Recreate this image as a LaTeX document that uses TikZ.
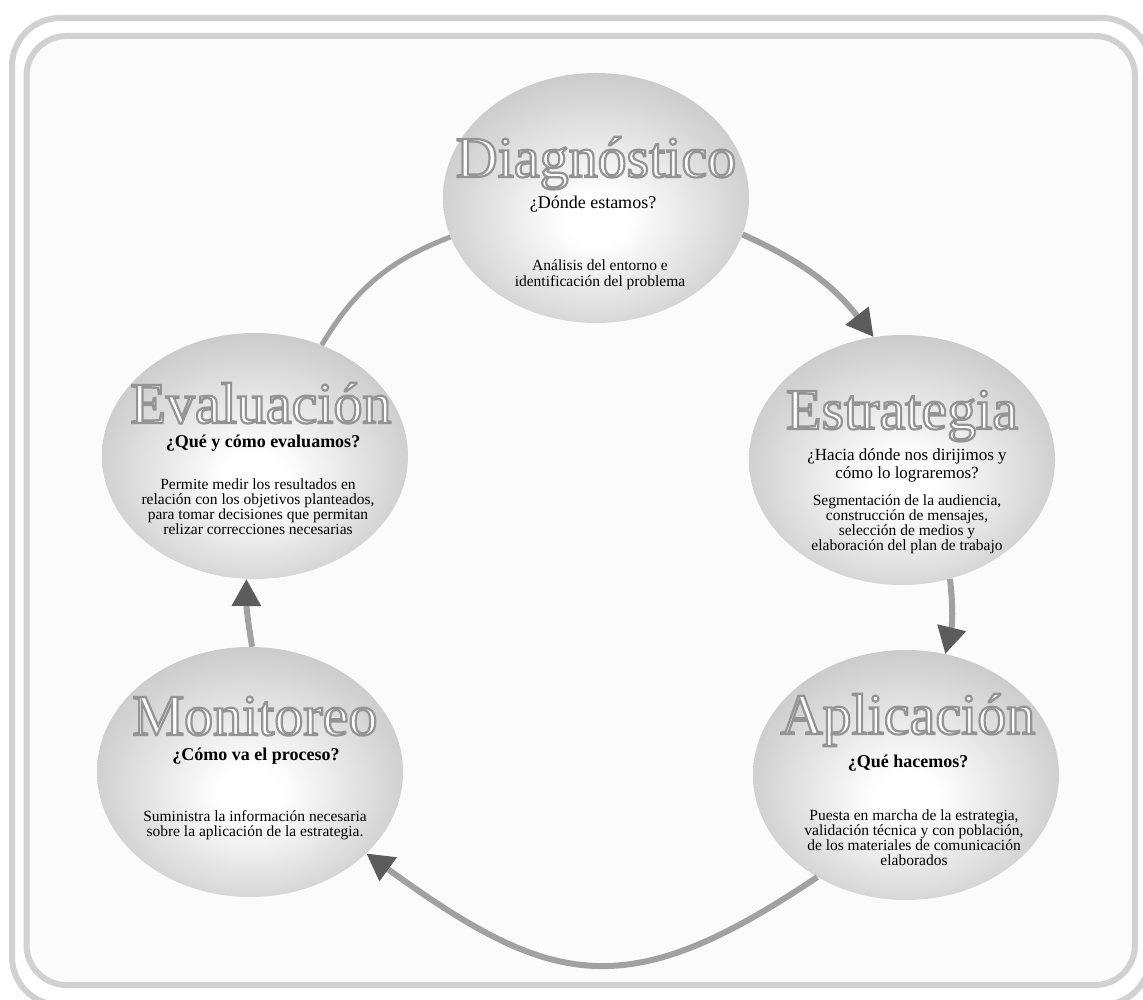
\documentclass[tikz,border=0pt]{standalone}
\usepackage{fontspec}
\setmainfont{Liberation Serif}
\usetikzlibrary{shapes.geometric, arrows.meta, positioning}

\definecolor{rim}{gray}{0.79}
\definecolor{pale}{gray}{0.985}
\pgfdeclareradialshading{glow}{\pgfpoint{0bp}{-5bp}}{color(0bp)=(white); color(5bp)=(white); color(28bp)=(rim); color(50bp)=(rim)}

% white title with a grey outline (fill and stroke text)
\newcommand{\embossed}[1]{{\color{white}%
  \special{pdf:literal direct 0.58 G 2.2 w 2 Tr}#1\special{pdf:literal direct 0 Tr 0.4 w}}}

\begin{document}
\begin{tikzpicture}[
    x=1pt, y=1pt,
    panel/.style={draw=black!18, line width=6pt, rounded corners=#1},
    phase/.style={ellipse, minimum width=306pt, minimum height=250pt, inner sep=0pt, shading=glow},
    ttl/.style={anchor=base, inner sep=0pt, font=\fontsize{58}{58}\selectfont},
    ask/.style={anchor=base, inner sep=0pt, align=center, font=\fontsize{18}{19}\selectfont},
    info/.style={inner sep=0pt, align=center, font=\fontsize{15.5}{15}\selectfont},
    arr/.style={-{Triangle[length=27pt, width=28pt, color=black!64]}, line width=6pt, color=black!37},
    link/.style={line width=5pt, color=black!37}
]
\useasboundingbox (0,0) rectangle (1143,999);
\fill[white] (0,0) rectangle (1143,999);

% frames
\draw[panel=48] (12,-6) rectangle (1150,981);
\draw[panel=40, fill=pale] (26.5,14) rectangle (1135,963);

% phases
\node[phase] (diag) at (596,801) {};
\node[phase] (estr) at (902,539) {};
\node[phase, minimum height=246pt] (eval) at (255,543) {};
\node[phase] (mon) at (250,227) {};
\node[phase] (apl) at (906,224) {};

% titles
\node[ttl] (diagT) at (596,822) {\embossed{Diagnóstico}};
\node[ttl] (estrT) at (902,570) {\embossed{Estrategia}};
\node[ttl] (evalT) at (261,576) {\embossed{Evaluación}};
\node[ttl] (monT) at (255,264) {\embossed{Monitoreo}};
\node[ttl] (aplT) at (908,265) {\embossed{Aplicación}};

% questions
\node[ask] (diagQ) at (593,790) {¿Dónde estamos?};
\node[ask, anchor=center, font=\fontsize{17}{18}\selectfont] (estrQ) at (907,534) {¿Hacia dónde nos dirijimos y\\cómo lo lograremos?};
\node[ask, font=\bfseries\fontsize{18}{19}\selectfont] (evalQ) at (263,551) {¿Qué y cómo evaluamos?};
\node[ask, font=\bfseries\fontsize{18}{19}\selectfont] (monQ) at (256,238) {¿Cómo va el proceso?};
\node[ask, font=\bfseries\fontsize{18}{19}\selectfont] (aplQ) at (908,231) {¿Qué hacemos?};

% descriptions
\node[info, font=\fontsize{15.5}{16}\selectfont] (diagI) at (600,724) {Análisis del entorno e\\identificación del problema};
\node[info, font=\fontsize{15.5}{13.5}\selectfont] (estrI) at (907,475) {Segmentación de la audiencia,\\construcción de mensajes,\\selección de medios y\\elaboración del plan de trabajo};
\node[info] (evalI) at (258,492) {Permite medir los resultados en\\relación con los objetivos planteados,\\para tomar decisiones que permitan\\relizar correcciones necesarias};
\node[info] (monI) at (255,174) {Suministra la información necesaria\\sobre la aplicación de la estrategia.};
\node[info] (aplI) at (914,161) {Puesta en marcha de la estrategia,\\validación técnica y con población,\\de los materiales de comunicación\\elaborados};

% cycle
\draw[arr] (diag.-14) to[bend left=14] (estr.103);
\draw[arr] (estr.-68) to[bend left=10] (apl.72);
\draw[arr] (apl.-131) to[out=214, in=-36, looseness=1.3] (mon.-35);
\draw[arr] (mon.89) to[bend left=5] (eval.-94);
\draw[link] (eval.59) to[bend left=19] (diag.195);

\end{tikzpicture}
\end{document}
